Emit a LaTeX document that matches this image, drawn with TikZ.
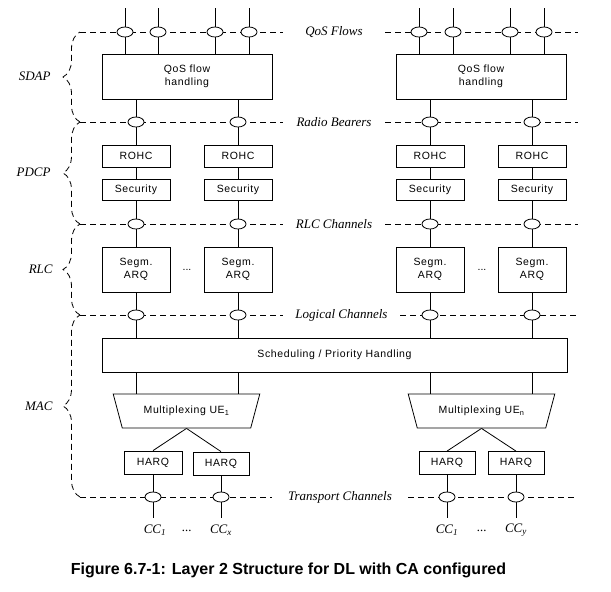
\documentclass[tikz,border=0pt]{standalone}
\usepackage{fontspec}
\setmainfont{Liberation Serif}
\setsansfont{Liberation Sans}
\newfontfamily\boxfont[LetterSpace=6]{Liberation Sans}
\usetikzlibrary{shapes.geometric,decorations.pathreplacing}
\begin{document}
\begin{tikzpicture}[x=1pt,y=-1pt,line width=0.8pt,
  box/.style={draw, fill=white, inner sep=0pt, align=center,
    font=\boxfont\fontsize{10.5}{13}\selectfont},
  mux/.style={draw, fill=white, shape=trapezium, trapezium left angle=58.3,
    trapezium right angle=58.3, trapezium stretches=true, shape border rotate=180,
    minimum width=147, minimum height=34, inner sep=0pt,
    font=\boxfont\fontsize{10.5}{13}\selectfont},
  ell/.style={draw, fill=white, ellipse, minimum width=16, minimum height=10, inner sep=0pt},
  dl/.style={dash pattern=on 6pt off 4pt},
  chan/.style={inner sep=0pt, font=\itshape\fontsize{13}{15}\selectfont},
  side/.style={inner sep=0pt, anchor=east, font=\itshape\fontsize{13}{15}\selectfont},
  cc/.style={inner sep=0pt, font=\itshape\fontsize{13}{15}\selectfont},
  brc/.style={dl, decorate, decoration={brace, amplitude=17pt}}
]
\useasboundingbox (0,0) rectangle (611,592);

% layer line end points
\coordinate (L1) at (80,32);  \coordinate (R1) at (578,32);
\coordinate (L2) at (80,122); \coordinate (R2) at (578,122);
\coordinate (L3) at (80,224); \coordinate (R3) at (578,224);
\coordinate (L4) at (80,315); \coordinate (R4) at (578,315);
\coordinate (L5) at (80,497); \coordinate (R5) at (578,497);

% top flow ends
\coordinate (t1) at (125,8); \coordinate (t2) at (158,8);
\coordinate (t3) at (215,8); \coordinate (t4) at (249,8);
\coordinate (t5) at (419,8); \coordinate (t6) at (453,8);
\coordinate (t7) at (510,8); \coordinate (t8) at (544,8);

% boxes
\node[box, minimum width=170, minimum height=45] (qos1) at (187,76.5) {QoS flow\\handling};
\node[box, minimum width=170, minimum height=45] (qos2) at (481,76.5) {QoS flow\\handling};

\node[box, minimum width=68, minimum height=22] (rohc1) at (136,156) {ROHC};
\node[box, minimum width=68, minimum height=22] (rohc2) at (238,156) {ROHC};
\node[box, minimum width=68, minimum height=22] (rohc3) at (430,156) {ROHC};
\node[box, minimum width=68, minimum height=22] (rohc4) at (532,156) {ROHC};

\node[box, minimum width=68, minimum height=21] (sec1) at (136,189.5) {Security};
\node[box, minimum width=68, minimum height=21] (sec2) at (238,189.5) {Security};
\node[box, minimum width=68, minimum height=21] (sec3) at (430,189.5) {Security};
\node[box, minimum width=68, minimum height=21] (sec4) at (532,189.5) {Security};

\node[box, minimum width=68, minimum height=45] (seg1) at (136,269.5) {Segm.\\ARQ};
\node[box, minimum width=68, minimum height=45] (seg2) at (238,269.5) {Segm.\\ARQ};
\node[box, minimum width=68, minimum height=45] (seg3) at (430,269.5) {Segm.\\ARQ};
\node[box, minimum width=68, minimum height=45] (seg4) at (532,269.5) {Segm.\\ARQ};

\node[inner sep=0pt, font=\sffamily\fontsize{10.5}{13}\selectfont] (dots1) at (187,270) {...};
\node[inner sep=0pt, font=\sffamily\fontsize{10.5}{13}\selectfont] (dots2) at (482,270) {...};

\node[box, minimum width=465, minimum height=34] (sched) at (334.5,355) {Scheduling / Priority Handling};

\node[mux] (mux1) at (186.5,411) {Multiplexing UE\textsubscript{1}};
\node[mux] (mux2) at (481.5,411) {Multiplexing UE\textsubscript{n}};

\node[box, minimum width=58, minimum height=23] (h1) at (153,462.5) {HARQ};
\node[box, minimum width=56, minimum height=23] (h2) at (221,463.5) {HARQ};
\node[box, minimum width=56, minimum height=23] (h3) at (447,463) {HARQ};
\node[box, minimum width=56, minimum height=23] (h4) at (516,463) {HARQ};

% vertical connectors
\foreach \t in {t1,t2,t3,t4} \draw (\t) -- (\t |- qos1.north);
\foreach \t in {t5,t6,t7,t8} \draw (\t) -- (\t |- qos2.north);
\draw (rohc1.north |- qos1.south) -- (rohc1.north);
\draw (rohc2.north |- qos1.south) -- (rohc2.north);
\draw (rohc3.north |- qos2.south) -- (rohc3.north);
\draw (rohc4.north |- qos2.south) -- (rohc4.north);
\foreach \i in {1,2,3,4} {
  \draw (rohc\i.south) -- (sec\i.north);
  \draw (sec\i.south) -- (seg\i.north);
  \draw (seg\i.south) -- (seg\i.south |- sched.north);
}
\draw (seg1.south |- sched.south) -- ++(0,22);
\draw (seg2.south |- sched.south) -- ++(0,22);
\draw (seg3.south |- sched.south) -- ++(0,22);
\draw (seg4.south |- sched.south) -- ++(0,22);
\draw (mux1.south) -- (h1.north);
\draw (mux1.south) -- (h2.north);
\draw (mux2.south) -- (h3.north);
\draw (mux2.south) -- (h4.north);
\coordinate (c1) at (153,518); \coordinate (c2) at (221,518);
\coordinate (c3) at (447,518); \coordinate (c4) at (516,518);
\draw (h1.south) -- (c1);
\draw (h2.south) -- (c2);
\draw (h3.south) -- (c3);
\draw (h4.south) -- (c4);

% channel labels
\node[chan, minimum width=102] (lq) at (334,32) {QoS Flows};
\node[chan, minimum width=102] (lrb) at (334,122) {Radio Bearers};
\node[chan, minimum width=102] (lrlc) at (334,224) {RLC Channels};
\node[chan, minimum width=117] (llc) at (341.5,315) {Logical Channels};
\node[chan, minimum width=136] (ltc) at (340,497) {Transport Channels};

% dashed layer lines
\draw[dl] (L1) -- (lq.west);   \draw[dl] (lq.east) -- (R1);
\draw[dl] (L2) -- (lrb.west);  \draw[dl] (lrb.east) -- (R2);
\draw[dl] (L3) -- (lrlc.west); \draw[dl] (lrlc.east) -- (R3);
\draw[dl] (L4) -- (llc.west);  \draw[dl] (llc.east) -- (R4);
\draw[dl] (L5) -- (ltc.west);  \draw[dl] (ltc.east) -- (R5);

% braces
\draw[brc] (L2) -- (L1);
\draw[brc] (L3) -- (L2);
\draw[brc] (L4) -- (L3);
\draw[brc] (L5) -- (L4);

\node[side] (sdap) at (51,76) {SDAP};
\node[side] (pdcp) at (51,172) {PDCP};
\node[side] (rlc) at (53,269) {RLC};
\node[side] (mac) at (53,406) {MAC};

% ellipses
\foreach \t in {t1,t2,t3,t4,t5,t6,t7,t8} \node[ell] at (\t |- L1) {};
\foreach \i in {1,2,3,4} {
  \node[ell] at (rohc\i.north |- L2) {};
  \node[ell] at (seg\i.north |- L3) {};
  \node[ell] at (seg\i.south |- L4) {};
}
\node[ell] (e1) at (c1 |- L5) {};
\node[ell] (e2) at (c2 |- L5) {};
\node[ell] (e3) at (c3 |- L5) {};
\node[ell] (e4) at (c4 |- L5) {};

% component carriers
\node[cc] (cc1) at (155,530) {CC\textsubscript{1}};
\node[cc] (ccd1) at (187,531) {...};
\node[cc] (ccx) at (221,530) {CC\textsubscript{x}};
\node[cc] (cc2) at (447,530) {CC\textsubscript{1}};
\node[cc] (ccd2) at (482,531) {...};
\node[cc] (ccy) at (516,530) {CC\textsubscript{y}};

% caption
\node[inner sep=0pt, font=\sffamily\bfseries\fontsize{16}{19}\selectfont] (cap) at (288.5,570)
  {Figure 6.7-1: Layer 2 Structure for DL with CA configured};
\end{tikzpicture}
\end{document}
